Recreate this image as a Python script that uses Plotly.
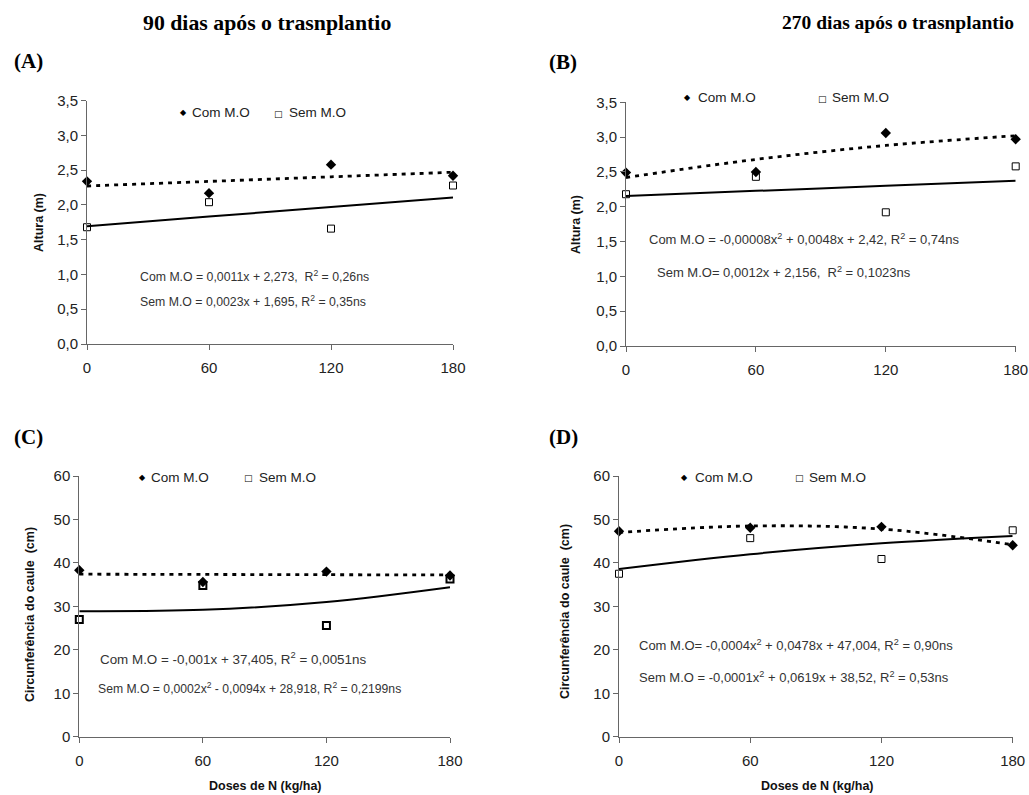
import plotly.graph_objects as go

W, H = 1029, 795

doses = [0, 60, 120, 180]
dose_ticks = ["0", "60", "120", "180"]

# Panel A - Altura, 90 dias
a_com = [2.34, 2.17, 2.58, 2.42]
a_sem = [1.68, 2.04, 1.66, 2.28]
a_com_trend = [2.273, 2.339, 2.405, 2.471]
a_sem_trend = [1.695, 1.833, 1.971, 2.109]

# Panel B - Altura, 270 dias
b_com = [2.49, 2.50, 3.06, 2.97]
b_sem = [2.18, 2.43, 1.92, 2.58]
b_com_trend = [2.42, 2.68, 2.88, 3.02]
b_sem_trend = [2.156, 2.228, 2.30, 2.372]

# Panel C - Circunferência, 90 dias
c_com = [38.3, 35.6, 38.0, 37.1]
c_sem = [27.0, 34.8, 25.6, 36.3]
c_com_trend = [37.405, 37.345, 37.285, 37.225]
c_sem_trend = [28.9, 29.2, 31.0, 34.4]

# Panel D - Circunferência, 270 dias
d_com = [47.3, 48.1, 48.3, 44.05]
d_sem = [37.5, 45.7, 40.9, 47.5]
d_com_trend = [47.0, 48.5, 47.8, 44.2]
d_sem_trend = [38.6, 42.0, 44.5, 46.2]

alt_ticks = [0, 0.5, 1.0, 1.5, 2.0, 2.5, 3.0, 3.5]
circ_ticks = [0, 10, 20, 30, 40, 50, 60]

eq_a = ["Com M.O = 0,0011x + 2,273,  R<sup>2</sup> = 0,26ns",
        "Sem M.O = 0,0023x + 1,695, R<sup>2</sup> = 0,35ns"]
eq_b = ["Com M.O = -0,00008x<sup>2</sup> + 0,0048x + 2,42, R<sup>2</sup> = 0,74ns",
        "Sem M.O= 0,0012x + 2,156,  R<sup>2</sup> = 0,1023ns"]
eq_c = ["Com M.O = -0,001x + 37,405, R<sup>2</sup> = 0,0051ns",
        "Sem M.O = 0,0002x<sup>2</sup> - 0,0094x + 28,918, R<sup>2</sup> = 0,2199ns"]
eq_d = ["Com M.O= -0,0004x<sup>2</sup> + 0,0478x + 47,004, R<sup>2</sup> = 0,90ns",
        "Sem M.O = -0,0001x<sup>2</sup> + 0,0619x + 38,52, R<sup>2</sup> = 0,53ns"]

SANS = "Liberation Sans, Arial, sans-serif"
SERIF = "Liberation Serif, Times New Roman, serif"

def px(x):
    return x / W

def py(y):
    return 1 - y / H

panels = [
    dict(ax="", xd=(87, 453), yd=(100.7, 344), com=a_com, sem=a_sem,
         ct=a_com_trend, st=a_sem_trend, yt=alt_ticks, yr=[0, 3.5], fmt=".1f",
         sqw=1, ytitle="Altura (m)", ytx=39, yty=223, xtitle=None),
    dict(ax="2", xd=(626, 1015.7), yd=(102.3, 346), com=b_com, sem=b_sem,
         ct=b_com_trend, st=b_sem_trend, yt=alt_ticks, yr=[0, 3.5], fmt=".1f",
         sqw=1, ytitle="Altura (m)", ytx=576, yty=225, xtitle=None),
    dict(ax="3", xd=(79.3, 450), yd=(476, 736.7), com=c_com, sem=c_sem,
         ct=c_com_trend, st=c_sem_trend, yt=circ_ticks, yr=[0, 60], fmt="d",
         sqw=2, ytitle="Circunferência do caule  (cm)", ytx=30, yty=615,
         xtitle=(265, 786)),
    dict(ax="4", xd=(619, 1012.7), yd=(476, 736.7), com=d_com, sem=d_sem,
         ct=d_com_trend, st=d_sem_trend, yt=circ_ticks, yr=[0, 60], fmt="d",
         sqw=1, ytitle="Circunferência do caule  (cm)", ytx=565, yty=612,
         xtitle=(817, 786)),
]

fig = go.Figure()
layout = {}
annotations = []

for p in panels:
    xa = "x" + p["ax"]
    ya = "y" + p["ax"]
    fig.add_trace(go.Scatter(x=doses, y=p["ct"], mode="lines", xaxis=xa, yaxis=ya,
                             line=dict(color="black", width=2.8, dash="4px,5px", shape="spline"),
                             showlegend=False, hoverinfo="skip"))
    fig.add_trace(go.Scatter(x=doses, y=p["st"], mode="lines", xaxis=xa, yaxis=ya,
                             line=dict(color="black", width=2, shape="spline"),
                             showlegend=False, hoverinfo="skip"))
    fig.add_trace(go.Scatter(x=doses, y=p["sem"], mode="markers", xaxis=xa, yaxis=ya,
                             name="Sem M.O", cliponaxis=False,
                             marker=dict(symbol="square-open", size=7, color="black",
                                         line=dict(width=p["sqw"], color="black")),
                             showlegend=False))
    fig.add_trace(go.Scatter(x=doses, y=p["com"], mode="markers", xaxis=xa, yaxis=ya,
                             name="Com M.O", cliponaxis=False,
                             marker=dict(symbol="diamond", size=8, color="black"),
                             showlegend=False))
    axis_common = dict(showline=True, linecolor="#666", linewidth=1, ticks="outside",
                       ticklen=5, tickcolor="#666", showgrid=False, zeroline=False,
                       automargin=False,
                       tickfont=dict(family=SANS, size=15, color="#222"))
    layout["xaxis" + p["ax"]] = dict(domain=[px(p["xd"][0]), px(p["xd"][1])],
                                     range=[0, 180], tickvals=doses, ticktext=dose_ticks,
                                     anchor=ya, ticklabelstandoff=5, **axis_common)
    layout["yaxis" + p["ax"]] = dict(domain=[py(p["yd"][1]), py(p["yd"][0])],
                                     range=p["yr"], tickvals=p["yt"], tickformat=p["fmt"],
                                     anchor=xa, **axis_common)
    annotations.append(dict(text="<b>" + p["ytitle"] + "</b>", x=px(p["ytx"]), y=py(p["yty"]),
                            xref="paper", yref="paper", textangle=-90, showarrow=False,
                            font=dict(family=SANS, size=12.5, color="#111"),
                            xanchor="center", yanchor="middle"))
    if p["xtitle"]:
        annotations.append(dict(text="<b>Doses de N (kg/ha)</b>", x=px(p["xtitle"][0]),
                                y=py(p["xtitle"][1]), xref="paper", yref="paper",
                                showarrow=False, font=dict(family=SANS, size=12.5, color="#111"),
                                xanchor="center", yanchor="middle"))

legend_pos = [
    (183, 190, 278, 287, 113, False),
    (687, 696, 822, 830, 98, False),
    (142, 149, 248, 257, 477, True),
    (684, 693, 799, 807, 477, False),
]
for cmx, ctx, smx, stx, ly, bold in legend_pos:
    annotations.append(dict(text="◆", x=px(cmx), y=py(ly), xref="paper", yref="paper",
                            showarrow=False, xanchor="center", yanchor="middle",
                            font=dict(family="DejaVu Sans", size=8, color="black")))
    annotations.append(dict(text="Com M.O", x=px(ctx), y=py(ly), xref="paper", yref="paper",
                            showarrow=False, xanchor="left", yanchor="middle",
                            font=dict(family=SANS, size=13.5, color="#222")))
    annotations.append(dict(text="<b>□</b>" if bold else "□", x=px(smx), y=py(ly + 1),
                            xref="paper", yref="paper",
                            showarrow=False, xanchor="center", yanchor="middle",
                            font=dict(family="DejaVu Sans", size=9, color="black")))
    annotations.append(dict(text="Sem M.O", x=px(stx), y=py(ly), xref="paper", yref="paper",
                            showarrow=False, xanchor="left", yanchor="middle",
                            font=dict(family=SANS, size=13.5, color="#222")))

eq_pos = [
    (eq_a, 138, 276, 138, 301, 12.3, 12.3),
    (eq_b, 647, 239, 655, 272, 13, 13),
    (eq_c, 98, 658, 96, 688, 13.4, 12.2),
    (eq_d, 637, 645, 637, 677, 13, 13),
]
for eqs, x1, y1, x2, y2, f1, f2 in eq_pos:
    annotations.append(dict(text=eqs[0], x=px(x1), y=py(y1), xref="paper", yref="paper",
                            showarrow=False, xanchor="left", yanchor="middle",
                            font=dict(family=SANS, size=f1, color="#333")))
    annotations.append(dict(text=eqs[1], x=px(x2), y=py(y2), xref="paper", yref="paper",
                            showarrow=False, xanchor="left", yanchor="middle",
                            font=dict(family=SANS, size=f2, color="#333")))

headers = [("90 dias após o trasnplantio", 267, 23, 21.8),
           ("270 dias após o trasnplantio", 898, 23, 19.5)]
for t, x, y, fs in headers:
    annotations.append(dict(text="<b>" + t + "</b>", x=px(x), y=py(y), xref="paper",
                            yref="paper", showarrow=False, xanchor="center", yanchor="middle",
                            font=dict(family=SERIF, size=fs, color="black")))
letters = [("(A)", 12, 61), ("(B)", 547, 62), ("(C)", 12, 437), ("(D)", 547, 437)]
for t, x, y in letters:
    annotations.append(dict(text="<b>" + t + "</b>", x=px(x), y=py(y), xref="paper",
                            yref="paper", showarrow=False, xanchor="left", yanchor="middle",
                            font=dict(family=SERIF, size=21, color="black")))

fig.update_layout(template="none", width=W, height=H, margin=dict(l=0, r=0, t=0, b=0),
                  paper_bgcolor="white", plot_bgcolor="white",
                  separators=", ", showlegend=False, annotations=annotations, **layout)

# remove the default page margin so the figure fills the 1029x795 window exactly
fig.write_html("out.html", config={"displayModeBar": False},
               post_script="document.body.style.margin='0';document.body.style.overflow='hidden';")
